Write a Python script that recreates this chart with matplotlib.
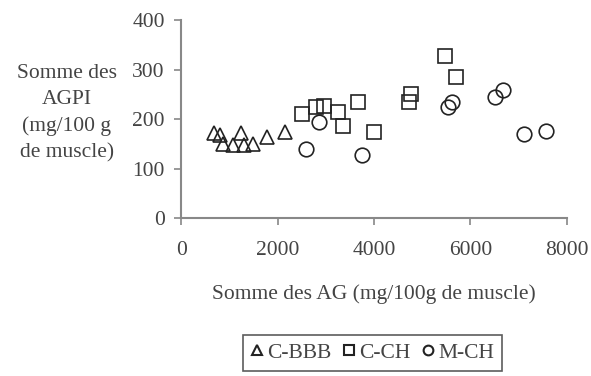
import numpy as np
import matplotlib.pyplot as plt
from matplotlib.lines import Line2D

# C-BBB (triangles)
bbb_x = [680, 810, 860, 1080, 1230, 1290, 1480, 1780, 2150]
bbb_y = [172, 168, 150, 147, 172, 147, 150, 164, 175]

# C-CH (squares)
cch_x = [2510, 2800, 2970, 3250, 3360, 3660, 3990, 4730, 4770, 5480, 5700]
cch_y = [210, 224, 227, 214, 186, 234, 174, 234, 251, 328, 286]

# M-CH (circles)
mch_x = [2590, 2850, 3750, 5530, 5620, 6510, 6670, 7120, 7570]
mch_y = [139, 195, 128, 224, 234, 244, 258, 170, 176]

xticks = [0, 2000, 4000, 6000, 8000]
yticks = [0, 100, 200, 300, 400]

plt.rcParams['font.family'] = ['Liberation Serif', 'DejaVu Serif']
txt = '#444444'
mk = '#222222'
fs = 15.5

fig = plt.figure(figsize=(5.91, 3.76), dpi=100)
ax = fig.add_axes([0.307, 0.419, 0.652, 0.528])

style = dict(linestyle='none', markerfacecolor='none', markeredgecolor=mk,
             markeredgewidth=1.2, markersize=10.5)
ax.plot(bbb_x, bbb_y, marker='^', **style)
ax.plot(cch_x, cch_y, marker='s', **style)
ax.plot(mch_x, mch_y, marker='o', **style)

ax.set_xlim(0, 8000)
ax.set_ylim(0, 400)
ax.set_xticks(xticks)
ax.set_yticks(yticks)
for s in ['top', 'right']:
    ax.spines[s].set_visible(False)
for s in ['left', 'bottom']:
    ax.spines[s].set_color('#888888')
    ax.spines[s].set_linewidth(1.5)
ax.tick_params(colors='#888888', labelcolor=txt, labelsize=fs, length=5, width=1.2)
ax.tick_params(axis='y', pad=7)
ax.tick_params(axis='x', pad=11)

ax.set_xlabel('Somme des AG (mg/100g de muscle)', fontsize=fs, color=txt, labelpad=18)
fig.text(0.113, 0.70, 'Somme des\nAGPI\n(mg/100 g\nde muscle)', ha='center', va='center',
         fontsize=fs, color=txt, linespacing=1.5)

handles = [Line2D([], [], marker=m, linestyle='none', markerfacecolor='none',
                  markeredgecolor=mk, markeredgewidth=1.5, markersize=7)
           for m in ['^', 's', 'o']]
leg = fig.legend(handles, ['C-BBB', 'C-CH', 'M-CH'], loc='upper center',
                 bbox_to_anchor=(0.63, 0.108), ncol=3, fontsize=fs, frameon=True,
                 fancybox=False, edgecolor='#333333', handlelength=0.6,
                 handletextpad=0.2, columnspacing=0.5, borderpad=0.35,
                 borderaxespad=0)
leg.get_frame().set_linewidth(1.2)
for t in leg.get_texts():
    t.set_color(txt)

fig.savefig('out.png', dpi=100)
